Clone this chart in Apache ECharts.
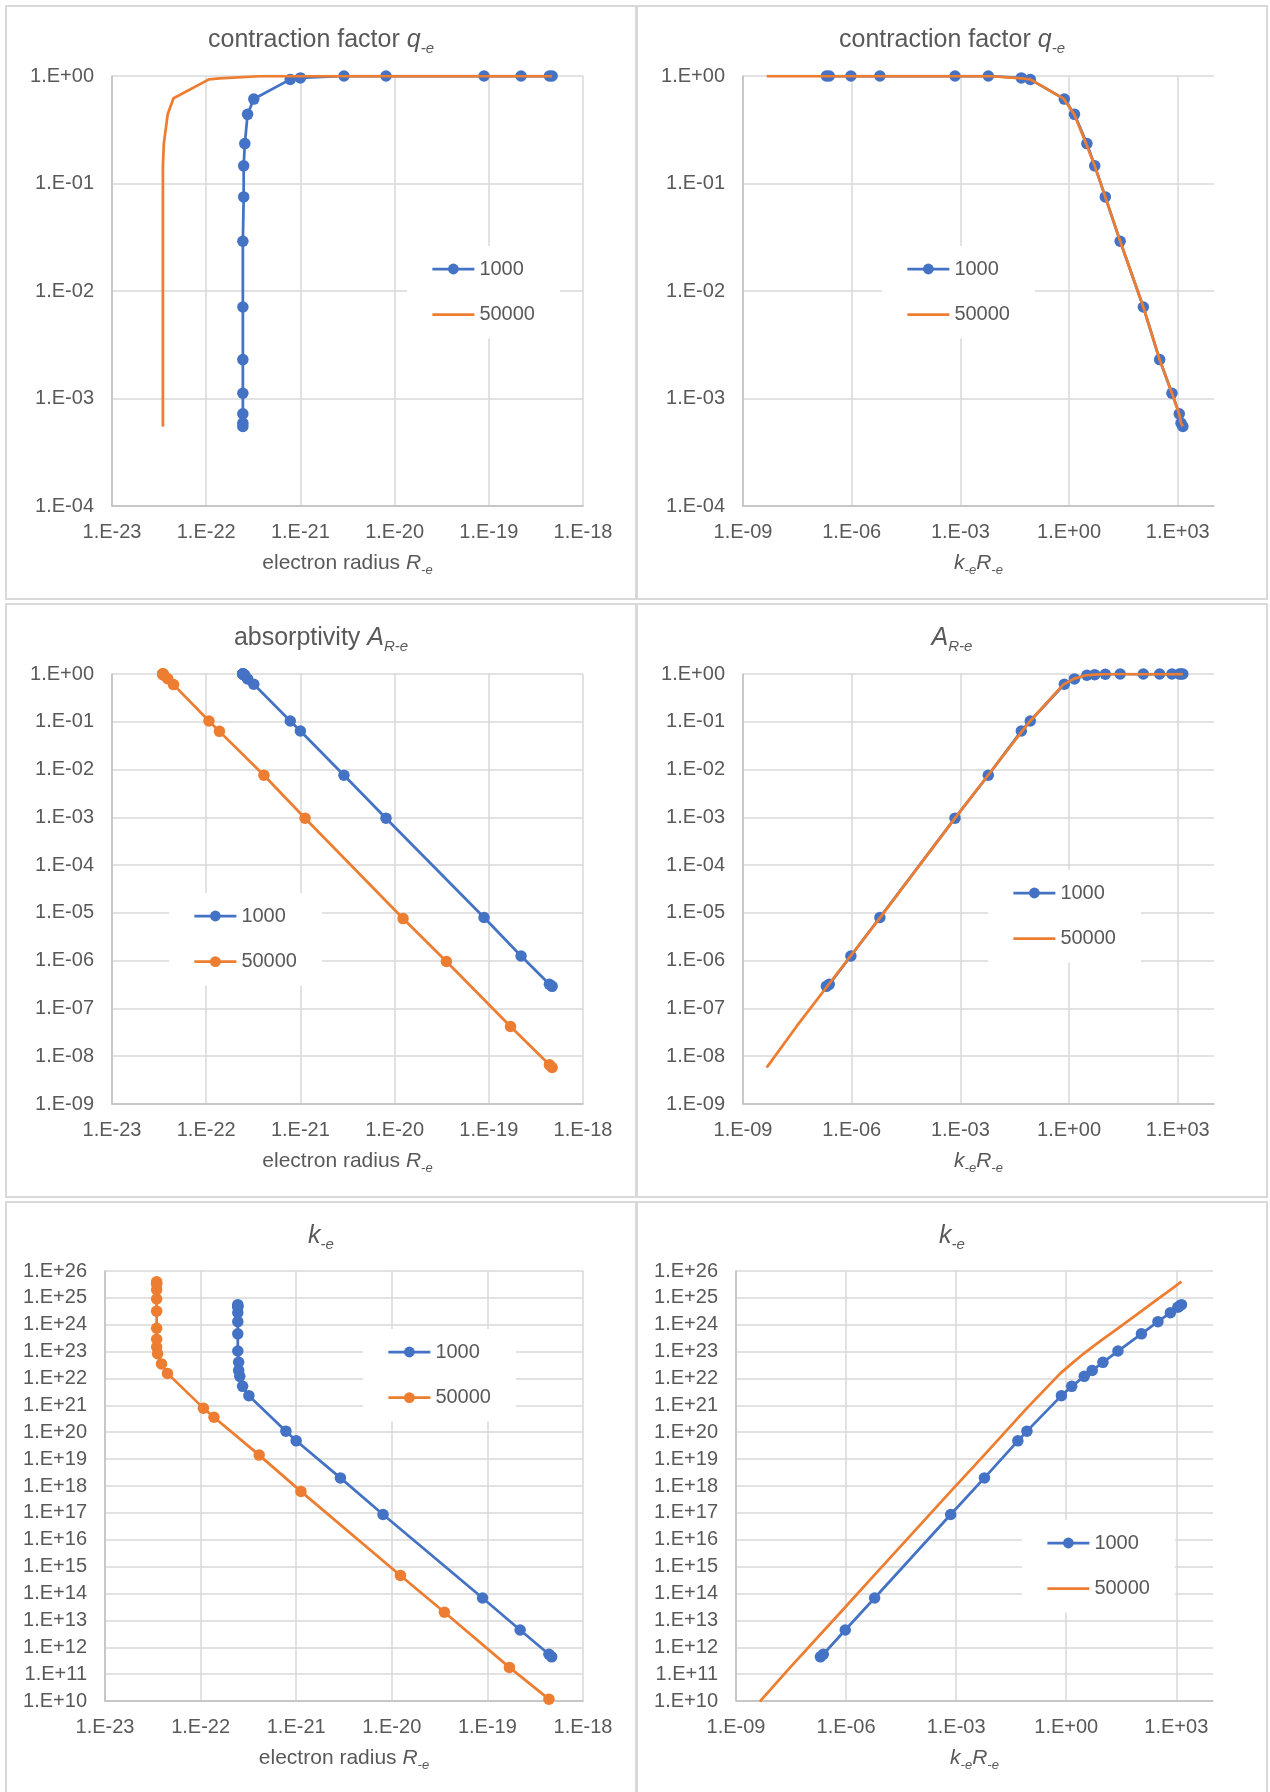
<!DOCTYPE html>
<html>
<head>
<meta charset="utf-8">
<title>Electron charts</title>
<script src="https://cdn.jsdelivr.net/npm/echarts@6.0.0/dist/echarts.min.js"></script>
<style>
  html, body { margin:0; padding:0; background:#ffffff; }
  #page { position:relative; width:1270px; height:1792px; overflow:hidden; background:#ffffff; }
  .chart { position:absolute; }
  .frame { position:absolute; box-sizing:border-box; border:2px solid #D9D9D9; pointer-events:none; }
</style>
</head>
<body>
<div id="page"></div>
<script>
// ---------------- data ----------------
const seriesNames = ['1000', '50000'];

// series "1000"
const R_1000  = [4.7e-19, 4.4e-19, 2.2e-19, 8.9e-20, 8.1e-21, 2.9e-21, 1.0e-21, 7.8e-22, 3.2e-22, 2.75e-22, 2.57e-22, 2.5e-22, 2.5e-22, 2.45e-22, 2.45e-22, 2.45e-22, 2.45e-22, 2.45e-22, 2.45e-22, 2.45e-22];
const kR_1000 = [2.0e-7, 2.4e-7, 9.5e-7, 6.0e-6, 7.1e-4, 5.9e-3, 4.8e-2, 8.5e-2, 0.74, 1.41, 3.1, 5.1, 10, 25.7, 112, 316, 690, 1100, 1230, 1380];
const q_1000  = [1, 1, 1, 1, 1, 1, 0.96, 0.93, 0.61, 0.44, 0.235, 0.146, 0.075, 0.029, 0.0071, 0.0023, 0.00112, 0.00072, 0.00059, 0.00055];
const A_1000  = [2.9e-7, 3.2e-7, 1.25e-6, 8.0e-6, 9.6e-4, 7.6e-3, 6.4e-2, 0.104, 0.61, 0.79, 0.94, 0.97, 0.99, 1, 1, 1, 1, 1, 1, 1];
const k_1000  = [4.4e11, 5.5e11, 4.4e12, 6.8e13, 8.7e16, 2.0e18, 4.8e19, 1.1e20, 2.3e21, 5.1e21, 1.2e22, 2.0e22, 4.0e22, 1.05e23, 4.6e23, 1.3e24, 2.8e24, 4.5e24, 5.0e24, 5.6e24];

// series "50000"
const R_50000  = [4.7e-19, 4.4e-19, 1.7e-19, 3.55e-20, 1.23e-20, 1.12e-21, 4.1e-22, 1.38e-22, 1.07e-22, 4.5e-23, 3.9e-23, 3.55e-23, 3.47e-23, 3.47e-23, 3.47e-23, 3.47e-23, 3.47e-23, 3.47e-23, 3.47e-23, 3.47e-23, 3.47e-23];
const kR_50000 = [4.5e-9, 5.1e-9, 3.0e-8, 7.1e-7, 5.8e-6, 7.1e-4, 5.8e-3, 5.0e-2, 8.5e-2, 0.69, 1.38, 2.95, 5.1, 10, 25.7, 112, 316, 692, 1096, 1230, 1380];
const q_50000  = [1, 1, 1, 1, 1, 1, 1, 0.95, 0.93, 0.62, 0.44, 0.235, 0.146, 0.075, 0.029, 0.0071, 0.0023, 0.00112, 0.00072, 0.00059, 0.00055];
const A_50000  = [5.8e-9, 6.6e-9, 4.2e-8, 9.6e-7, 7.6e-6, 9.6e-4, 7.6e-3, 6.3e-2, 0.104, 0.6, 0.8, 0.94, 0.97, 0.99, 1, 1, 1, 1, 1, 1, 1];
const k_50000  = [9.5e9, 1.17e10, 1.78e11, 2.0e13, 4.7e14, 6.3e17, 1.41e19, 3.6e20, 7.9e20, 1.55e22, 3.5e22, 8.3e22, 1.48e23, 2.9e23, 7.4e23, 3.2e24, 9.1e24, 2.0e25, 3.2e25, 3.5e25, 4.0e25];

// tick values
const ticksR  = [1e-23, 1e-22, 1e-21, 1e-20, 1e-19, 1e-18];
const ticksKR = [1e-9, 1e-6, 1e-3, 1, 1e3];
const ticksQ  = [1e-4, 1e-3, 1e-2, 1e-1, 1];
const ticksA  = [1e-9, 1e-8, 1e-7, 1e-6, 1e-5, 1e-4, 1e-3, 1e-2, 1e-1, 1];
const ticksK  = [1e10, 1e11, 1e12, 1e13, 1e14, 1e15, 1e16, 1e17, 1e18, 1e19, 1e20, 1e21, 1e22, 1e23, 1e24, 1e25, 1e26];

// ---------------- styling ----------------
const BLUE = '#4472C4', ORANGE = '#ED7D31', TXT = '#595959', GRID = '#D9D9D9', AXIS = '#BFBFBF';
const FONT = '"Liberation Sans", Arial, Helvetica, sans-serif';
const PW = 632, PH = 595;

function sci(v) {
  const e = Math.round(Math.log10(v));
  return '1.E' + (e < 0 ? '-' : '+') + String(Math.abs(e)).padStart(2, '0');
}
function pairs(xs, ys) { return xs.map((x, i) => [x, ys[i]]); }
// keep the end ticks a hair inside the axis extent so rounding never drops them
function insideTicks(ticks, min, max) {
  return ticks.map(function (v) {
    if (v >= max) return max * (1 - 1e-9);
    if (v <= min) return min * (1 + 1e-9);
    return v;
  });
}

const titleRich = {
  t: { fontSize: 25, color: TXT, fontFamily: FONT, lineHeight: 32 },
  i: { fontSize: 25, color: TXT, fontFamily: FONT, fontStyle: 'italic', lineHeight: 32 },
  s: { fontSize: 15, color: TXT, fontFamily: FONT, fontStyle: 'italic', lineHeight: 17, verticalAlign: 'bottom' }
};
const nameRich = {
  t: { fontSize: 21, color: TXT, fontFamily: FONT, lineHeight: 28 },
  i: { fontSize: 21, color: TXT, fontFamily: FONT, fontStyle: 'italic', lineHeight: 28 },
  s: { fontSize: 13, color: TXT, fontFamily: FONT, fontStyle: 'italic', lineHeight: 14, verticalAlign: 'bottom' }
};

function xAxisOpt(ticks, min, max, name) {
  const tv = insideTicks(ticks, min, max);
  return {
    type: 'log', logBase: 10, min: min, max: max,
    name: name, nameLocation: 'middle', nameGap: 43,
    nameTextStyle: { rich: nameRich, color: TXT, fontFamily: FONT, fontSize: 21 },
    axisLine: { show: true, onZero: false, lineStyle: { color: AXIS, width: 1.5 } },
    axisTick: { show: false, customValues: tv },
    axisLabel: { show: true, customValues: tv, formatter: sci, color: TXT, fontSize: 20, fontFamily: FONT, margin: 16.5 },
    splitLine: { show: true, lineStyle: { color: GRID, width: 1.5 } },
    minorTick: { show: false }, minorSplitLine: { show: false }
  };
}
function yAxisOpt(ticks, min, max) {
  const tv = insideTicks(ticks, min, max);
  return {
    type: 'log', logBase: 10, min: min, max: max,
    axisLine: { show: true, onZero: false, lineStyle: { color: AXIS, width: 1.5 } },
    axisTick: { show: false, customValues: tv },
    axisLabel: { show: true, customValues: tv, formatter: sci, color: TXT, fontSize: 20, fontFamily: FONT, margin: 18 },
    splitLine: { show: true, lineStyle: { color: GRID, width: 1.5 } },
    minorTick: { show: false }, minorSplitLine: { show: false }
  };
}
function lineSeries(name, color, data, markers, z) {
  return {
    type: 'line', name: name, data: data,
    symbol: markers ? 'circle' : 'none', symbolSize: 11.5, showSymbol: markers,
    lineStyle: { color: color, width: 2.75, join: 'round' },
    itemStyle: { color: color },
    emphasis: { disabled: true }, silent: true, z: z
  };
}

const NAME_R  = '{t|electron radius }{i|R}{s|-e}';
const NAME_KR = '{i|k}{s|-e}{i|R}{s|-e}';

const panels = [
  { x: 5,   y: 5,    title: '{t|contraction factor }{i|q}{s|-e}', grid: [107, 71, 471, 430],
    xs: [R_1000, R_50000], ys: [q_1000, q_50000], xt: ticksR, xmin: 1e-23, xmax: 1e-18, xname: NAME_R,
    yt: ticksQ, ymin: 1e-4, ymax: 1, om: false, lg: [402, 241] },
  { x: 636, y: 5,    title: '{t|contraction factor }{i|q}{s|-e}', grid: [107, 71, 471, 430],
    xs: [kR_1000, kR_50000], ys: [q_1000, q_50000], xt: ticksKR, xmin: 1e-9, xmax: 1e4, xname: NAME_KR,
    yt: ticksQ, ymin: 1e-4, ymax: 1, om: false, lg: [246, 241] },
  { x: 5,   y: 603,  title: '{t|absorptivity }{i|A}{s|R-e}', grid: [107, 71, 471, 430],
    xs: [R_1000, R_50000], ys: [A_1000, A_50000], xt: ticksR, xmin: 1e-23, xmax: 1e-18, xname: NAME_R,
    yt: ticksA, ymin: 1e-9, ymax: 1, om: true, lg: [164, 290] },
  { x: 636, y: 603,  title: '{i|A}{s|R-e}', grid: [107, 71, 471, 430],
    xs: [kR_1000, kR_50000], ys: [A_1000, A_50000], xt: ticksKR, xmin: 1e-9, xmax: 1e4, xname: NAME_KR,
    yt: ticksA, ymin: 1e-9, ymax: 1, om: false, lg: [352, 267] },
  { x: 5,   y: 1201, title: '{i|k}{s|-e}', grid: [100, 70, 478, 430],
    xs: [R_1000, R_50000], ys: [k_1000, k_50000], xt: ticksR, xmin: 1e-23, xmax: 1e-18, xname: NAME_R,
    yt: ticksK, ymin: 1e10, ymax: 1e26, om: true, lg: [358, 128] },
  { x: 636, y: 1201, title: '{i|k}{s|-e}', grid: [100, 70, 477, 430],
    xs: [kR_1000, kR_50000], ys: [k_1000, k_50000], xt: ticksKR, xmin: 1e-9, xmax: 1e4, xname: NAME_KR,
    yt: ticksK, ymin: 1e10, ymax: 1e26, om: false, lg: [386, 319] }
];

const page = document.getElementById('page');
panels.forEach(function (p) {
  const el = document.createElement('div');
  el.className = 'chart';
  el.style.left = p.x + 'px'; el.style.top = p.y + 'px';
  el.style.width = PW + 'px'; el.style.height = PH + 'px';
  page.appendChild(el);
  const fr = document.createElement('div');
  fr.className = 'frame';
  fr.style.left = p.x + 'px'; fr.style.top = p.y + 'px';
  fr.style.width = PW + 'px'; fr.style.height = PH + 'px';
  page.appendChild(fr);

  const chart = echarts.init(el, null, { renderer: 'canvas', width: PW, height: PH });
  chart.setOption({
    animation: false,
    backgroundColor: 'transparent',
    textStyle: { fontFamily: FONT, color: TXT },
    title: {
      text: p.title, left: 'center', top: 14,
      textStyle: { rich: titleRich, color: TXT, fontFamily: FONT, fontSize: 25, fontWeight: 'normal' }
    },
    grid: { left: p.grid[0], top: p.grid[1], width: p.grid[2], height: p.grid[3], containLabel: false, outerBoundsMode: 'none' },
    legend: {
      orient: 'vertical', left: p.lg[0], top: p.lg[1],
      padding: [13, 25, 14, 24], backgroundColor: '#ffffff',
      itemWidth: 42, itemHeight: 13.5, itemGap: 25.6, itemTextGap: 6,
      selectedMode: false,
      textStyle: { color: TXT, fontSize: 20, fontFamily: FONT, lineHeight: 20 },
      lineStyle: { width: 2.75 },
      data: [
        { name: seriesNames[0] },
        p.om ? { name: seriesNames[1] } : { name: seriesNames[1], itemStyle: { opacity: 0 } }
      ]
    },
    xAxis: xAxisOpt(p.xt, p.xmin, p.xmax, p.xname),
    yAxis: yAxisOpt(p.yt, p.ymin, p.ymax),
    series: [
      lineSeries(seriesNames[0], BLUE, pairs(p.xs[0], p.ys[0]), true, 2),
      lineSeries(seriesNames[1], ORANGE, pairs(p.xs[1], p.ys[1]), p.om, 3)
    ]
  });
});
</script>
</body>
</html>
